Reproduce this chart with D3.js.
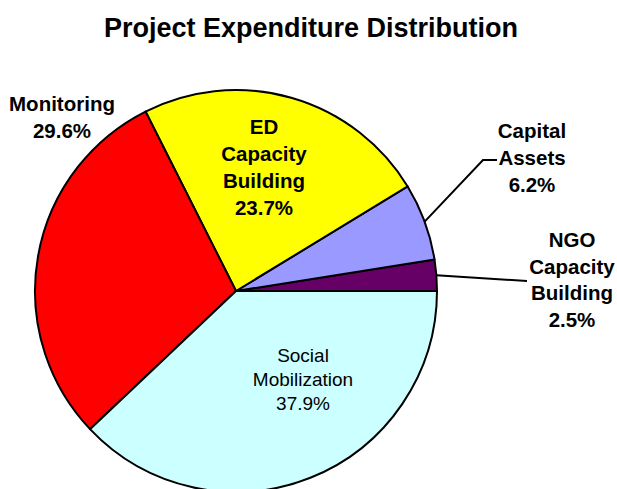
<!DOCTYPE html>
<html><head><meta charset="utf-8">
<script src="https://cdn.jsdelivr.net/npm/d3@7"></script>
<style>body{margin:0;background:#fff}svg{display:block}text{font-family:"Liberation Sans",Arial,sans-serif}</style>
</head><body>
<svg id="c" width="617" height="489"></svg>
<script>
const categories = ["NGO Capacity Building","Capital Assets","ED Capacity Building","Monitoring","Social Mobilization"];
const values = [2.5, 6.2, 23.7, 29.6, 37.9];
const colors = ["#660066","#9999FF","#FFFF00","#FF0000","#CCFFFF"];
const labelLines = [["NGO","Capacity","Building","2.5%"],["Capital","Assets","6.2%"],["ED","Capacity","Building","23.7%"],["Monitoring","29.6%"],["Social","Mobilization","37.9%"]];

const svg = d3.select("#c");
const cx = 236, cy = 291, r = 201;
svg.append("text").attr("x",311).attr("y",37).attr("text-anchor","middle")
  .attr("font-size",27).attr("font-weight","bold").text("Project Expenditure Distribution");

const pie = d3.pie().sort(null).startAngle(Math.PI/2).endAngle(Math.PI/2 - 2*Math.PI);
const arcs = pie(values);
const arc = d3.arc().innerRadius(0).outerRadius(r);
const g = svg.append("g").attr("transform",`translate(${cx},${cy})`);
g.selectAll("path").data(arcs).join("path").attr("d",arc)
  .attr("fill",(d,i)=>colors[i]).attr("stroke","#000").attr("stroke-width",2).attr("stroke-linejoin","round");

const labelPos = [[572,247],[532,138],[264,134],[62,111],[303,362]];
const bold = [true,true,true,true,false];
const lh = [26.5,27,27,27,24];
const fs = [20.5,20.5,20.5,20.5,19];
labelLines.forEach((lines,i)=>{
  const t = svg.append("text").attr("text-anchor","middle").attr("font-size",fs[i])
    .attr("font-weight",bold[i]?"bold":"normal");
  lines.forEach((s,j)=>t.append("tspan").attr("x",labelPos[i][0]).attr("y",labelPos[i][1]+j*lh[i]).text(s));
});
const ang = a => [cx + r*Math.sin(a), cy - r*Math.cos(a)];
const mid = d => (d.startAngle+d.endAngle)/2;
const pCap = ang(mid(arcs[1])), pNgo = ang(mid(arcs[0]));
svg.append("path").attr("d",d3.line()([pCap,[483,160],[497,160]])).attr("fill","none").attr("stroke","#000").attr("stroke-width",2);
svg.append("path").attr("d",d3.line()([pNgo,[527,281]])).attr("fill","none").attr("stroke","#000").attr("stroke-width",2);
</script>
</body></html>
